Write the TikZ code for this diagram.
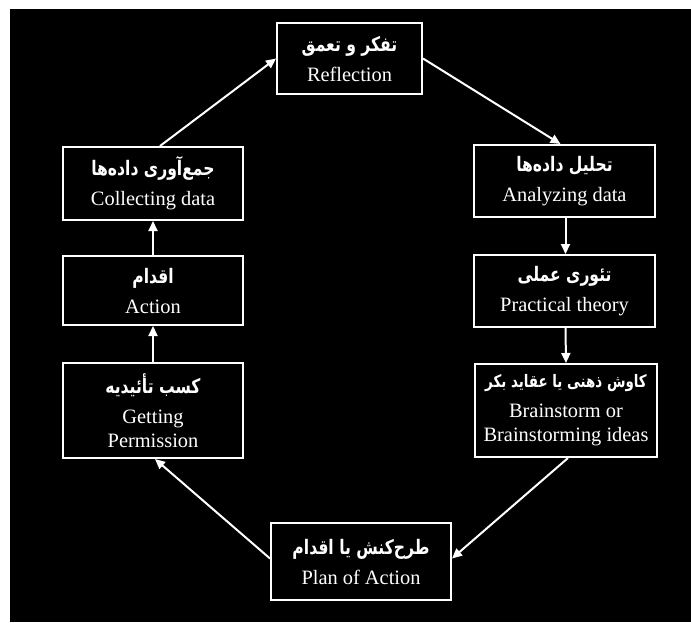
\documentclass[tikz,border=0pt]{standalone}
\usepackage{fontspec}
\setmainfont{Liberation Serif}
\newfontfamily\farsi[Script=Arabic,FakeStretch=0.78]{DejaVu Sans}
\TeXXeTstate=1
\usetikzlibrary{arrows.meta}
\newcommand{\fa}[2][10]{{\farsi\fontsize{#1}{12}\selectfont\bfseries\beginR #2\endR}}
\begin{document}
\begin{tikzpicture}[x=0.5pt,y=-0.5pt,
    box/.style={draw=white,line width=1pt,align=center,text=white,inner sep=0pt,
      font=\fontsize{10.2}{12}\selectfont},
    flow/.style={draw=white,line width=1pt,-{Triangle[length=5pt,width=4.5pt]}}]
        \useasboundingbox (0,0) rectangle (691,622);
        \fill [white] (0,0) rectangle (691,622);
        \fill [black] (10,9) rectangle (691,622);

        % left column
        \node [box,minimum width=90pt,minimum height=36.5pt] (coll) at (153,183.5) {\fa{جمع‌آوری داده‌ها}\\[3pt]Collecting data};
        \node [box,minimum width=90pt,minimum height=34.5pt] (act) at (153,290.5) {\fa{اقدام}\\[3pt]Action};
        \node [box,minimum width=90pt,minimum height=47.5pt] (perm) at (153,410.5) {\fa{کسب تأئیدیه}\\[3pt]Getting\\Permission};

        % top and bottom
        \node [box,minimum width=72.5pt,minimum height=35.5pt] (refl) at (349.5,58.5) {\fa{تفکر و تعمق}\\[3pt]Reflection};
        \node [box,minimum width=90pt,minimum height=38.5pt] (plan) at (361,561.5) {\fa{طرح‌کنش یا اقدام}\\[3pt]Plan of Action};

        % right column
        \node [box,minimum width=90.5pt,minimum height=36pt] (anal) at (564.5,181) {\fa{تحلیل داده‌ها}\\[3pt]Analyzing data};
        \node [box,minimum width=90.5pt,minimum height=36pt] (prac) at (564.5,291) {\fa{تئوری عملی}\\[3pt]Practical theory};
        \node [box,minimum width=91pt,minimum height=46.5pt] (brain) at (566,410.5) {\fa[8.6]{کاوش ذهنی یا عقاید بکر}\\[3pt]Brainstorm or\\Brainstorming ideas};

        % the cycle
        \draw [flow] ([xshift=3.5pt]coll.north) -- (refl.west);
        \draw [flow] (refl.east) -- ([xshift=-2pt]anal.north);
        \draw [flow] ([xshift=0.5pt]anal.south) -- ([xshift=0.5pt]prac.north);
        \draw [flow] ([xshift=0.5pt]prac.south) -- (brain.north);
        \draw [flow] ([xshift=1pt]brain.south) -- ([yshift=1.5pt]plan.east);
        \draw [flow] ([yshift=1.5pt]plan.west) -- ([xshift=1pt]perm.south);
        \draw [flow] (perm.north) -- (act.south);
        \draw [flow] (act.north) -- (coll.south);
\end{tikzpicture}
\end{document}
